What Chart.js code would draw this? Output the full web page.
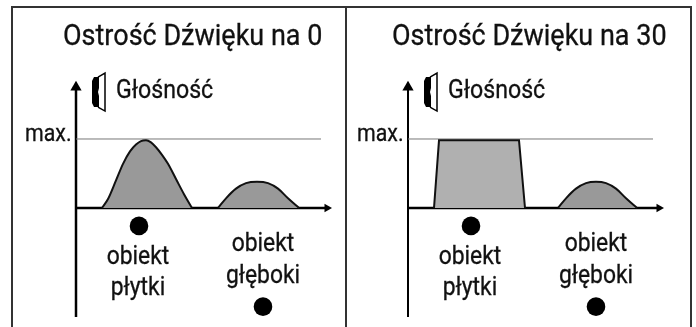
<!DOCTYPE html>
<html>
<head>
<meta charset="utf-8">
<style>
  html, body { margin: 0; padding: 0; background: #fff; overflow: hidden; }
  #wrap { position: relative; width: 696px; height: 327px; }
  .frame { position: absolute; top: 6px; height: 321px; border-top: 2px solid #333; border-left: 2px solid #333; box-sizing: border-box; }
  canvas { position: absolute; top: 7px; }
</style>
<script src="https://cdn.jsdelivr.net/npm/chart.js@4"></script>
</head>
<body>
<div id="wrap">
  <div class="frame" style="left:11px;width:334px"></div>
  <div class="frame" style="left:345px;width:347px;border-right:2px solid #333"></div>
  <canvas id="left" width="333" height="320" style="left:12px"></canvas>
  <canvas id="right" width="346" height="320" style="left:345px"></canvas>
</div>
<script>
/* global Chart */

const titles = ["Ostrość Dźwięku na 0", "Ostrość Dźwięku na 30"];
const volumeLabel = "Głośność";
const maxLabel = "max.";
const shallowLabel = ["obiekt", "płytki"];
const deepLabel = ["obiekt", "głęboki"];

// x = distance along the depth axis, y = volume (1 = max.)
const bellX = [26, 32, 40, 47, 54, 60, 65, 70, 75, 80, 86, 92, 100, 108, 116];
const bellY = [0, 0.13, 0.4, 0.64, 0.82, 0.92, 0.97, 0.98, 0.95, 0.88, 0.77, 0.64, 0.42, 0.2, 0];
const clippedX = [26, 31, 111, 117];
const clippedY = [0, 0.98, 0.98, 0];
const deepX = [142, 150, 160, 170, 181, 192, 202, 212, 223];
const deepY = [0, 0.14, 0.28, 0.36, 0.38, 0.36, 0.28, 0.14, 0];
const clippedDeepX = [150, 158, 168, 178, 188, 198, 208, 218, 229];

const el = (id) => document.getElementById(id);
const xy = (xs, ys) => xs.map((x, i) => ({ x, y: ys[i] }));

const textPlugin = {
  id: "panelText",
  afterDraw(chart, _args, opts) {
    const { ctx, scales: { x, y } } = chart;
    ctx.save();
    ctx.fillStyle = "#111";
    ctx.strokeStyle = "#111";
    ctx.lineWidth = 0.3;
    ctx.textBaseline = "alphabetic";
    for (const t of opts.items) {
      ctx.font = `${t.size}px Roboto`;
      // the reference uses a condensed cut: squeeze the text sideways
      ctx.save();
      ctx.translate(x.getPixelForValue(t.x), y.getPixelForValue(t.y));
      ctx.scale(t.squeeze, 1);
      ctx.textAlign = t.align || "left";
      ctx.fillText(t.text, 0, 0);
      ctx.strokeText(t.text, 0, 0);
      ctx.restore();
    }
    ctx.restore();
  }
};

const speakerPlugin = {
  id: "speaker",
  afterDraw(chart, _args, opts) {
    const { ctx, scales: { x, y } } = chart;
    const px = x.getPixelForValue(opts.x);
    const py = y.getPixelForValue(opts.y);
    ctx.save();
    ctx.fillStyle = "#000";
    ctx.beginPath();
    ctx.moveTo(px, py - 11);
    ctx.lineTo(px + 2, py - 15);
    ctx.lineTo(px + 7, py - 15);
    ctx.lineTo(px + 7, py - 4);
    ctx.lineTo(px + 6, py);
    ctx.lineTo(px + 7, py + 4);
    ctx.lineTo(px + 7, py + 15);
    ctx.lineTo(px + 2, py + 15);
    ctx.lineTo(px, py + 11);
    ctx.closePath();
    ctx.fill();
    ctx.strokeStyle = "#000";
    ctx.lineWidth = 1.5;
    ctx.beginPath();
    ctx.moveTo(px + 6, py - 15);
    ctx.lineTo(px + 13, py - 19);
    ctx.lineTo(px + 13, py + 19);
    ctx.lineTo(px + 6, py + 15);
    ctx.stroke();
    ctx.restore();
  }
};

const areaSet = (data, fill, smooth) => ({
  type: "line", data, borderColor: "#111", borderWidth: 2, backgroundColor: fill,
  fill: "origin", pointRadius: 0, cubicInterpolationMode: smooth ? "monotone" : "default", tension: 0
});

const buildPanel = (id, opts) => {
  new Chart(el(id).getContext("2d"), {
    type: "scatter",
    data: {
      datasets: [
        ...opts.areas,
        { type: "line", data: xy([0, 245], [1, 1]), borderColor: "#777", borderWidth: 1, pointRadius: 0 },
        { type: "line", data: xy([0, 0], [-1.58, 1.72]), borderColor: "#000", borderWidth: opts.axisWidth, pointRadius: 0 },
        { type: "line", data: xy([0, 250], [0, 0]), borderColor: "#000", borderWidth: 2.5, pointRadius: 0 },
        { data: xy([0], [1.75]), pointStyle: "triangle", pointRadius: 6.5, backgroundColor: "#000", borderWidth: 0 },
        { data: xy([251], [0]), pointStyle: "triangle", rotation: 90, pointRadius: 5, backgroundColor: "#000", borderWidth: 0 },
        { data: xy(opts.dotX, opts.dotY), pointStyle: "circle", pointRadius: 9.3, backgroundColor: "#000", borderWidth: 0 }
      ]
    },
    options: {
      responsive: false,
      animation: false,
      layout: { padding: 0, autoPadding: false },
      scales: {
        x: { type: "linear", display: false, min: opts.xMin, max: opts.xMax },
        y: { type: "linear", display: false, min: -1.725, max: 2.913 }
      },
      plugins: {
        legend: { display: false },
        tooltip: { enabled: false },
        panelText: { items: opts.text },
        speaker: { x: 16, y: 1.68 }
      }
    },
    plugins: [textPlugin, speakerPlugin]
  });
};

const panelText = (title, titleX, shallowX, deepTextX) => [
  { text: title, x: titleX, y: 2.36, size: 30, squeeze: 0.9 },
  { text: volumeLabel, x: 40, y: 1.59, size: 26, squeeze: 0.89 },
  { text: maxLabel, x: -51, y: 0.97, size: 24, squeeze: 0.89 },
  { text: shallowLabel[0], x: shallowX, y: -0.81, size: 26, squeeze: 0.88, align: "center" },
  { text: shallowLabel[1], x: shallowX, y: -1.26, size: 26, squeeze: 0.88, align: "center" },
  { text: deepLabel[0], x: deepTextX, y: -0.62, size: 26, squeeze: 0.88, align: "center" },
  { text: deepLabel[1], x: deepTextX, y: -1.09, size: 26, squeeze: 0.88, align: "center" }
];

buildPanel("left", {
  xMin: -64, xMax: 269,
  axisWidth: 2.5,
  areas: [areaSet(xy(bellX, bellY), "#999", true), areaSet(xy(deepX, deepY), "#999", true)],
  dotX: [63, 187], dotY: [-0.26, -1.43],
  text: panelText(titles[0], -13, 62, 187)
});

buildPanel("right", {
  xMin: -63, xMax: 283,
  axisWidth: 2,
  areas: [areaSet(xy(clippedX, clippedY), "#b0b0b0", false), areaSet(xy(clippedDeepX, deepY), "#999", true)],
  dotX: [63, 188], dotY: [-0.26, -1.43],
  text: panelText(titles[1], -16, 62, 188)
});
</script>
</body>
</html>
